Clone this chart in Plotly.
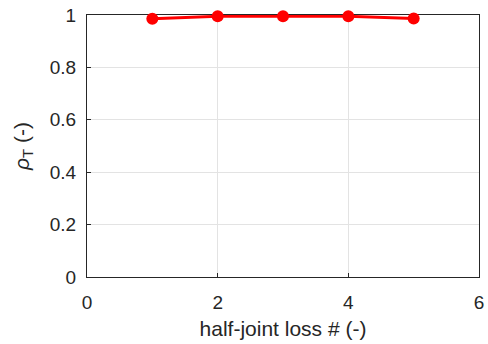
import plotly.graph_objects as go

# half-joint loss cases and the correlation coefficient rho_T for each
joint_loss = [1, 2, 3, 4, 5]
rho_t = [0.986, 0.995, 0.995, 0.995, 0.987]

x_ticks = [0, 2, 4, 6]
y_ticks = [0, 0.2, 0.4, 0.6, 0.8, 1]

FONT = "Liberation Sans, Arial, Helvetica, sans-serif"
INK = "#262626"

fig = go.Figure()
fig.add_trace(go.Scatter(
    x=joint_loss, y=rho_t, mode="lines+markers",
    line=dict(color="#ff0000", width=3),
    marker=dict(color="#ff0000", size=12),
    cliponaxis=False, showlegend=False,
))

axis_common = dict(
    showline=True, linecolor=INK, linewidth=1, mirror=True,
    showgrid=True, gridcolor="#e3e3e3", gridwidth=1,
    ticks="inside", ticklen=4, tickcolor=INK,
    zeroline=False, ticklabeloverflow="allow", layer="below traces",
    tickfont=dict(family=FONT, size=19, color=INK),
)

fig.update_xaxes(
    range=[0, 6], tickvals=x_ticks, ticktext=[str(v) for v in x_ticks],
    ticklabelstandoff=8,
    title=dict(text="half-joint loss # (-)", standoff=9,
               font=dict(family=FONT, size=21, color=INK)),
    **axis_common,
)
fig.update_yaxes(
    range=[0, 1], tickvals=y_ticks, ticktext=["0", "0.2", "0.4", "0.6", "0.8", "1"],
    ticklabelstandoff=6,
    title=dict(text="<i>ρ</i><sub>T</sub> (-)", standoff=14,
               font=dict(family=FONT, size=21, color=INK)),
    **axis_common,
)

fig.update_layout(
    width=488, height=344,
    margin=dict(l=87, r=4, t=15, b=67),
    paper_bgcolor="white", plot_bgcolor="white",
)

fig.write_html("out.html")
